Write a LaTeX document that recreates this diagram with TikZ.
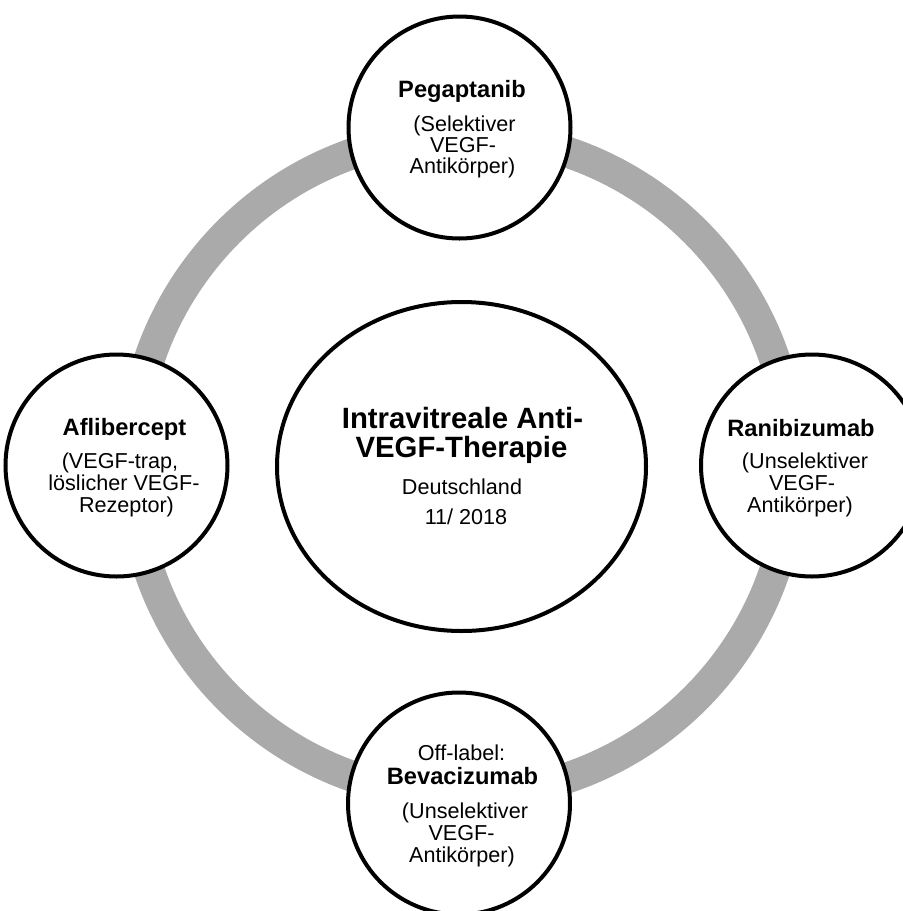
\documentclass[tikz,border=0pt]{standalone}
\usepackage{fontspec}
\setmainfont{Liberation Sans}
\usetikzlibrary{shapes.geometric}
\definecolor{ringgray}{RGB}{170,170,170}
\tikzset{
  drugcircle/.style={circle, draw=black, line width=3pt, fill=white, minimum size=166.5pt, inner sep=0pt},
  drugname/.style={anchor=base, inner sep=0pt, font=\fontsize{17.75}{20}\selectfont\bfseries},
  drugnote/.style={anchor=base, inner sep=0pt, font=\fontsize{16.2}{18}\selectfont},
  maintitle/.style={anchor=base, inner sep=0pt, font=\fontsize{22}{24}\selectfont\bfseries},
}

\begin{document}
\begin{tikzpicture}[x=0.75pt,y=0.75pt,yscale=-1,xscale=1]
\clip (0,0) rectangle (903,911); %set diagram size 903 x 911

%Shape: Ring
\draw [color=ringgray, line width=23.25pt] (462,465) circle (330) ;
%Shape: Ellipse
\node [ellipse, draw=black, line width=3pt, fill=white, inner sep=0pt, minimum width=276.75pt, minimum height=246.75pt] (therapie) at (461.5,466.5) {} ;
%Shape: Circles
\node [drugcircle] (pega) at (459.5,127.5) {} ;
\node [drugcircle] (rani) at (812,465.5) {} ;
\node [drugcircle] (beva) at (459,803.5) {} ;
\node [drugcircle] (afli) at (116.5,465.5) {} ;

% Text Node
\node [maintitle] (therapie-t1) at (462.5,428) {Intravitreale Anti-} ;
\node [maintitle] (therapie-t2) at (461.5,457) {VEGF-Therapie} ;
\node [drugnote] (therapie-l1) at (462,494) {Deutschland} ;
\node [drugnote] (therapie-l2) at (466,524) {11/ 2018} ;
% Text Node
\node [drugname] (pega-name) at (462,97) {Pegaptanib} ;
\node [drugnote] (pega-l1) at (464.5,131) {(Selektiver} ;
\node [drugnote] (pega-l2) at (463,152) {VEGF-} ;
\node [drugnote] (pega-l3) at (462.5,173) {Antikörper)} ;
% Text Node
\node [drugname] (rani-name) at (801,436) {Ranibizumab} ;
\node [drugnote] (rani-l1) at (805,468) {(Unselektiver} ;
\node [drugnote] (rani-l2) at (802,490) {VEGF-} ;
\node [drugnote] (rani-l3) at (800,512) {Antikörper)} ;
% Text Node
\node [drugnote] (beva-l0) at (461.5,760) {Off-label:} ;
\node [drugname] (beva-name) at (462.5,784) {Bevacizumab} ;
\node [drugnote] (beva-l1) at (465,818) {(Unselektiver} ;
\node [drugnote] (beva-l2) at (461.5,840) {VEGF-} ;
\node [drugnote] (beva-l3) at (462,862) {Antikörper)} ;
% Text Node
\node [drugname] (afli-name) at (124.5,435) {Aflibercept} ;
\node [drugnote] (afli-l1) at (120,468) {(VEGF-trap,} ;
\node [drugnote] (afli-l2) at (124,490) {löslicher VEGF-} ;
\node [drugnote] (afli-l3) at (126.5,512) {Rezeptor)} ;

\end{tikzpicture}
\end{document}
